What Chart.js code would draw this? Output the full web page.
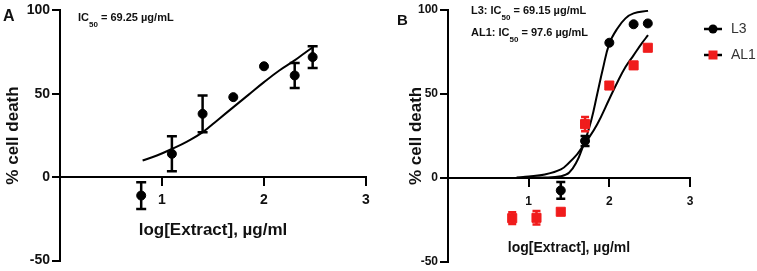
<!DOCTYPE html>
<html lang="en">
<head>
<meta charset="UTF-8">
<title>% cell death vs log[Extract]</title>
<script src="https://cdn.jsdelivr.net/npm/chart.js"></script>
<style>
  body { margin: 0; background: #fff; }
  .wrap { position: relative; width: 757px; height: 271px; }
  #chartA { position: absolute; left: 0; top: 0; }
  #chartB { position: absolute; left: 380px; top: 0; }
</style>
</head>
<body>
<div class="wrap">
  <canvas id="chartA" width="380" height="271"></canvas>
  <canvas id="chartB" width="377" height="271"></canvas>
</div>
<script>
// log10 of extract concentration (6.25 ... 300 µg/ml)
const logConc = [0.796, 1.097, 1.398, 1.699, 2.0, 2.301, 2.477];

// Panel A: measured points (mean, sd) and fitted curve
const meanA = [-11, 14, 38, 48, 66.5, 61, 72];
const errA  = [8, 10.5, 11, 0, 0, 7.5, 6.5];
const fitAx = [0.81, 0.95, 1.1, 1.25, 1.4, 1.55, 1.7, 1.85, 2.0, 2.15, 2.3, 2.4, 2.48];
const fitAy = [10, 13, 17, 21.5, 27, 34.5, 42, 49.5, 57, 64, 70, 74.5, 78];

// Panel B: L3 and AL1
const meanL3  = [null, null, -7.5, 22, 80.5, 91.5, 92];
const errL3   = [0, 0, 5, 3, 0, 0, 0];
const meanAL1 = [-24, -23.8, -20.2, 32, 55, 67, 77.5];
const errAL1  = [3.5, 4, 1.5, 4.2, 0, 0, 0];
const fitL3x  = [0.86, 1.2, 1.4, 1.5, 1.6, 1.66, 1.7, 1.78, 1.85, 1.92, 2.0, 2.1, 2.2, 2.3, 2.48];
const fitL3y  = [0, 0.2, 1, 3, 10, 17, 22, 35, 50, 65, 80, 89, 95, 98, 99.5];
const fitAL1x = [0.85, 1.0, 1.2, 1.4, 1.5, 1.6, 1.66, 1.7, 1.85, 2.0, 2.1, 2.2, 2.3, 2.4, 2.48];
const fitAL1y = [0.2, 0.8, 2, 5, 9, 14, 18, 20.5, 32, 47, 57, 66, 73, 80, 85];

const xTicks = [1, 2, 3];
const yTicks = [-50, 0, 50, 100];

const FONT = "'Liberation Sans', Arial, sans-serif";
const RED = '#f01c1c';

const pts = (xs, ys) => xs.map((x, i) => ({ x: x, y: ys[i] }));

// draws mean +/- sd bars through the chart scales
const errorBars = {
  id: 'errorBars',
  afterDatasetsDraw(chart) {
    const { ctx, scales: { x, y } } = chart;
    chart.data.datasets.forEach((ds, i) => {
      if (!ds.errors || !chart.isDatasetVisible(i)) return;
      ctx.save();
      ctx.strokeStyle = ds.errorColor;
      ctx.lineWidth = 2.5;
      const cw = ds.capWidth / 2;
      ds.data.forEach((p, j) => {
        const e = ds.errors[j];
        if (p.y == null || !e) return;
        const px = x.getPixelForValue(p.x);
        const top = y.getPixelForValue(p.y + e);
        const bot = y.getPixelForValue(p.y - e);
        ctx.beginPath();
        ctx.moveTo(px, top); ctx.lineTo(px, bot);
        ctx.moveTo(px - cw, top); ctx.lineTo(px + cw, top);
        ctx.moveTo(px - cw, bot); ctx.lineTo(px + cw, bot);
        ctx.stroke();
      });
      ctx.restore();
    });
  }
};

// panel letter + IC50 notes
function notes(letter, lx, ly, lsize, lines) {
  return {
    id: 'notes' + letter,
    afterDraw(chart) {
      const ctx = chart.ctx;
      ctx.save();
      ctx.fillStyle = '#111';
      ctx.textBaseline = 'alphabetic';
      ctx.font = 'bold ' + lsize + 'px ' + FONT;
      ctx.fillText(letter, lx, ly);
      lines.forEach(l => {
        ctx.font = 'bold 11px ' + FONT;
        const head = l.name + 'IC';
        ctx.fillText(head, l.x, l.y);
        let w = ctx.measureText(head).width;
        ctx.font = 'bold 8px ' + FONT;
        ctx.fillText('50', l.x + w, l.y + 6);
        w += ctx.measureText('50').width;
        ctx.font = 'bold 11px ' + FONT;
        ctx.fillText(' = ' + l.value + ' µg/mL', l.x + w, l.y);
      });
      ctx.restore();
    }
  };
}

function axes(p) {
  return {
    x: {
      type: 'linear', min: 0, max: 3,
      position: { y: 0 },
      afterBuildTicks: s => { s.ticks = xTicks.map(v => ({ value: v })); },
      afterFit: s => { s.height = 11; },
      grid: { drawOnChartArea: false, tickLength: 8, color: '#000', lineWidth: 2 },
      border: { color: '#000', width: 2 },
      ticks: { color: '#111', padding: p.xTickPad, maxRotation: 0,
               font: { family: FONT, size: p.tickSize, weight: 'bold' } },
      title: { display: true, text: 'log[Extract], µg/ml', color: '#111',
               padding: { top: 0, bottom: p.xTitlePad },
               font: { family: FONT, size: p.titleSize, weight: 'bold' } }
    },
    y: {
      type: 'linear', min: -50, max: 100,
      afterBuildTicks: s => { s.ticks = yTicks.map(v => ({ value: v })); },
      afterFit: s => { s.width = p.yWidth; },
      grid: { drawOnChartArea: false, tickLength: 8, color: '#000', lineWidth: 2 },
      border: { color: '#000', width: 2 },
      ticks: { color: '#111', padding: 2,
               font: { family: FONT, size: p.tickSize, weight: 'bold' } },
      title: { display: true, text: '% cell death', color: '#111',
               padding: { top: p.yTitlePad, bottom: 0 },
               font: { family: FONT, size: 17, weight: 'bold' } }
    }
  };
}

function legendIcon(fill, shape) {
  const c = document.createElement('canvas');
  c.width = 20; c.height = 12;
  const g = c.getContext('2d');
  g.strokeStyle = '#000'; g.lineWidth = 2.5;
  g.beginPath(); g.moveTo(1, 6); g.lineTo(19, 6); g.stroke();
  g.fillStyle = fill;
  if (shape === 'circle') {
    g.beginPath(); g.arc(10, 6, 4.5, 0, 2 * Math.PI); g.fill();
  } else {
    g.fillRect(5.5, 1.5, 9, 9);
  }
  return c;
}

const curve = (data) => ({
  type: 'line', data: data, showLine: true, borderColor: '#000', borderWidth: 2,
  pointRadius: 0, tension: 0.4, fill: false, order: 2
});

new Chart(document.getElementById('chartA'), {
  type: 'scatter',
  data: {
    datasets: [
      { label: 'A', data: pts(logConc, meanA), backgroundColor: '#000', borderColor: '#000',
        pointRadius: 4.5, order: 1, errors: errA, errorColor: '#000', capWidth: 10 },
      curve(pts(fitAx, fitAy))
    ]
  },
  options: {
    responsive: false, animation: false,
    layout: { padding: { left: 0, top: 10, right: 14, bottom: 0 } },
    plugins: { legend: { display: false }, tooltip: { enabled: false } },
    scales: axes({ tickSize: 14, titleSize: 17, xTickPad: 6.6, xTitlePad: -52.2, yWidth: 60, yTitlePad: 2.8 })
  },
  plugins: [errorBars, notes('A', 3, 21, 16, [{ name: '', x: 78, y: 21, value: '69.25' }])]
});

new Chart(document.getElementById('chartB'), {
  type: 'scatter',
  data: {
    datasets: [
      { label: 'L3', data: pts(logConc, meanL3), backgroundColor: '#000', borderColor: '#000',
        pointRadius: 4.5, order: 0, errors: errL3, errorColor: '#000', capWidth: 9,
        icon: legendIcon('#000', 'circle') },
      { label: 'AL1', data: pts(logConc, meanAL1), backgroundColor: RED, borderColor: RED,
        pointStyle: 'rect', pointRadius: 6.4, order: 1, errors: errAL1, errorColor: RED, capWidth: 8,
        icon: legendIcon(RED, 'rect') },
      curve(pts(fitL3x, fitL3y)),
      curve(pts(fitAL1x, fitAL1y))
    ]
  },
  options: {
    responsive: false, animation: false,
    layout: { padding: { left: 0, top: 10, right: 0, bottom: 0 } },
    plugins: {
      tooltip: { enabled: false },
      legend: {
        position: 'right', align: 'start', maxWidth: 67,
        labels: {
          usePointStyle: true, pointStyleWidth: 22, padding: 12, color: '#333',
          font: { family: FONT, size: 14 },
          generateLabels: chart => chart.data.datasets
            .map((ds, i) => ({ text: ds.label, pointStyle: ds.icon, datasetIndex: i,
                               fontColor: '#333', lineWidth: 0, strokeStyle: 'transparent' }))
            .filter(it => it.pointStyle)
        }
      }
    },
    scales: axes({ tickSize: 12, titleSize: 14, xTickPad: 8.8, xTitlePad: -67.4, yWidth: 68, yTitlePad: 25.8 })
  },
  plugins: [errorBars, notes('B', 17, 25, 15, [
    { name: 'L3: ', x: 91, y: 13.5, value: '69.15' },
    { name: 'AL1: ', x: 91, y: 36, value: '97.6' }
  ])]
});
</script>
</body>
</html>
